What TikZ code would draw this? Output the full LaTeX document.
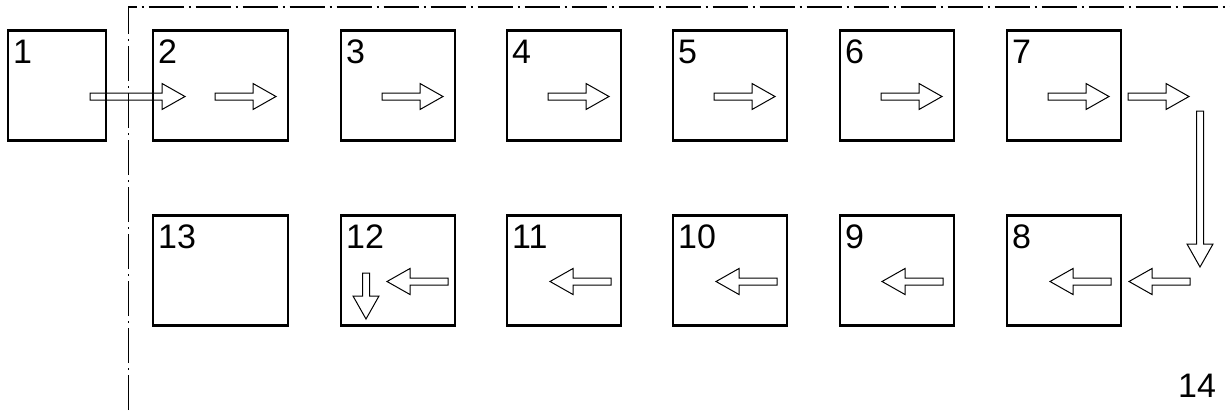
\documentclass[tikz,border=0pt]{standalone}
\usepackage{fontspec}
\newfontfamily\lblfont{Liberation Sans}
\begin{document}
\begin{tikzpicture}[x=1pt,y=-1pt,
  box/.style={draw, line width=2.6pt, inner sep=0pt, outer sep=0pt, anchor=north west},
  lbl/.style={font=\lblfont\fontsize{34}{40}\selectfont, inner sep=0pt, anchor=base west},
  arrowline/.style={draw, line width=1pt, line join=miter},
  frameline/.style={line width=1.1pt, dash pattern=on 35pt off 5pt on 2pt off 5pt},
  pics/barrow/.style={code={
    \draw[arrowline] (0,-3.5) -- ({#1-23},-3.5) -- ({#1-23},-13) -- (#1,0)
      -- ({#1-23},13) -- ({#1-23},3.5) -- (0,3.5) -- cycle;}}
]
\useasboundingbox (0,0) rectangle (1230,410);
% frame
\draw[frameline] (128.5,410) -- (128.5,7) -- (1230,7);
% boxes row 1
\node[box, minimum width=98pt, minimum height=110pt] (b1) at (8,30.5) {};
\node[box, minimum width=135pt, minimum height=110pt] (b2) at (153,30.5) {};
\node[box, minimum width=114pt, minimum height=110pt] (b3) at (341,30.5) {};
\node[box, minimum width=114pt, minimum height=110pt] (b4) at (507,30.5) {};
\node[box, minimum width=114pt, minimum height=110pt] (b5) at (673,30.5) {};
\node[box, minimum width=114pt, minimum height=110pt] (b6) at (840,30.5) {};
\node[box, minimum width=114pt, minimum height=110pt] (b7) at (1007,30.5) {};
% boxes row 2
\node[box, minimum width=135pt, minimum height=110pt] (b13) at (153,215.5) {};
\node[box, minimum width=114pt, minimum height=110pt] (b12) at (341,215.5) {};
\node[box, minimum width=114pt, minimum height=110pt] (b11) at (507,215.5) {};
\node[box, minimum width=114pt, minimum height=110pt] (b10) at (673,215.5) {};
\node[box, minimum width=114pt, minimum height=110pt] (b9) at (840,215.5) {};
\node[box, minimum width=114pt, minimum height=110pt] (b8) at (1007,215.5) {};
% labels
\foreach \b/\t in {b1/1,b2/2,b3/3,b4/4,b5/5,b6/6,b7/7,b8/8,b9/9,b10/10,b11/11,b12/12,b13/13}{
  \node[lbl] (t\b) at ([shift={(5,33)}]\b.north west) {\t};
}
\node[lbl] (t14) at (1178,397) {14};
% arrows row 1
\pic at (90,96.5) {barrow=95};
\foreach \x in {215,382,548,714,881,1048,1128}{
  \pic at (\x,96.5) {barrow=61};
}
% vertical arrow
\pic[rotate=-90] at (1200,111) {barrow=156};
% arrows row 2
\foreach \x in {1190,1111,943,777,611,448}{
  \pic[rotate=180] at (\x,281.5) {barrow=61};
}
\pic[rotate=-90] at (366,273) {barrow=46};
\end{tikzpicture}
\end{document}
